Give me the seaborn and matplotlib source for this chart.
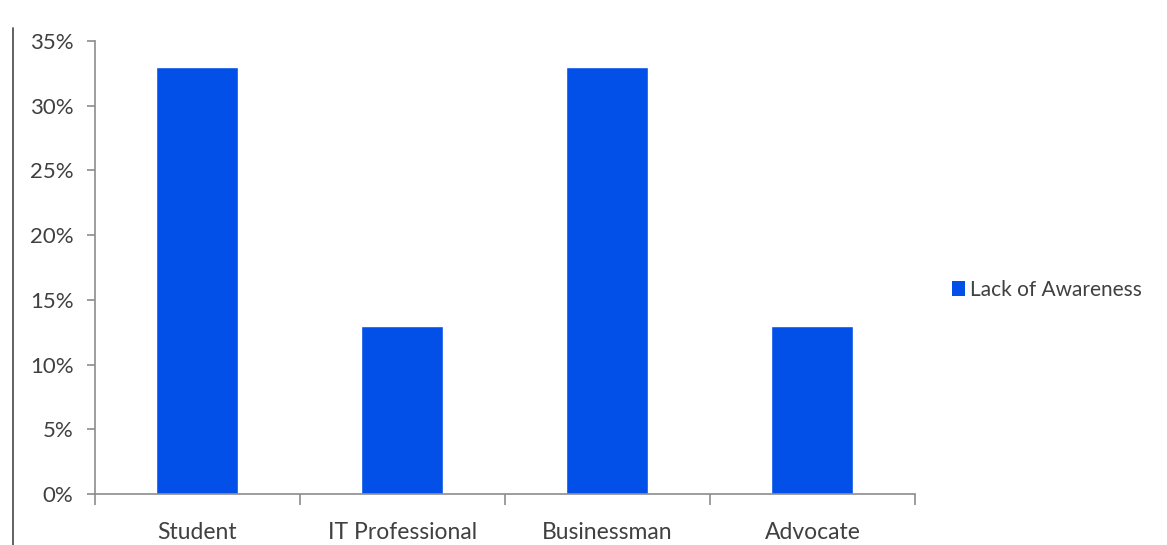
import matplotlib
matplotlib.use("Agg")
import matplotlib.pyplot as plt
import seaborn as sns
import pandas as pd
from matplotlib.lines import Line2D
from matplotlib.patches import Patch
from matplotlib.ticker import FuncFormatter, MultipleLocator, FixedLocator

categories = ["Student", "IT Professional", "Businessman", "Advocate"]
lack_of_awareness = [0.33, 0.13, 0.33, 0.13]
series_name = "Lack of Awareness"

sns.set_style("white")
plt.rcParams["font.family"] = ["Lato", "DejaVu Sans"]

bar_color = "#0350e8"
axis_color = "#8c8c8c"
text_color = "#404040"

df = pd.DataFrame({"category": categories, "value": lack_of_awareness})

fig = plt.figure(figsize=(11.67, 5.45), dpi=100)
ax = fig.add_axes([0.0814, 0.0936, 0.7026, 0.8312])

sns.barplot(data=df, x="category", y="value", color=bar_color, width=0.4,
            saturation=1, ax=ax)

ax.set_xlim(-0.5, len(categories) - 0.5)
ax.set_ylim(0, 0.35)
ax.yaxis.set_major_locator(MultipleLocator(0.05))
ax.yaxis.set_major_formatter(FuncFormatter(lambda v, _: f"{v * 100:.0f}%"))
ax.set_xlabel("")
ax.set_ylabel("")

for side in ("top", "right"):
    ax.spines[side].set_visible(False)
for side in ("left", "bottom"):
    ax.spines[side].set_color(axis_color)
    ax.spines[side].set_linewidth(1.2)

# category boundaries carry the x tick marks
ax.xaxis.set_minor_locator(FixedLocator([i - 0.5 for i in range(len(categories) + 1)]))
ax.tick_params(axis="x", which="major", length=0, pad=20, labelsize=16.5,
               labelcolor=text_color)
ax.tick_params(axis="x", which="minor", length=8, width=1.2, color=axis_color,
               direction="out", bottom=True)
ax.tick_params(axis="y", which="major", length=5.5, width=1.2, color=axis_color,
               direction="out", left=True, pad=10, labelsize=16,
               labelcolor=text_color)

handle = Patch(facecolor=bar_color, edgecolor="none")
fig.legend([handle], [series_name], loc="center left",
           bbox_to_anchor=(0.8, 0.468), frameon=False, fontsize=15,
           handlelength=0.6, handleheight=0.75, handletextpad=0.25,
           labelcolor=text_color)

# page border on the left
fig.add_artist(Line2D([13 / 1167, 13 / 1167], [0, 1 - 28 / 545],
                      transform=fig.transFigure, color="#555555", linewidth=1.3))

fig.savefig("out.png", dpi=100, facecolor="white")
